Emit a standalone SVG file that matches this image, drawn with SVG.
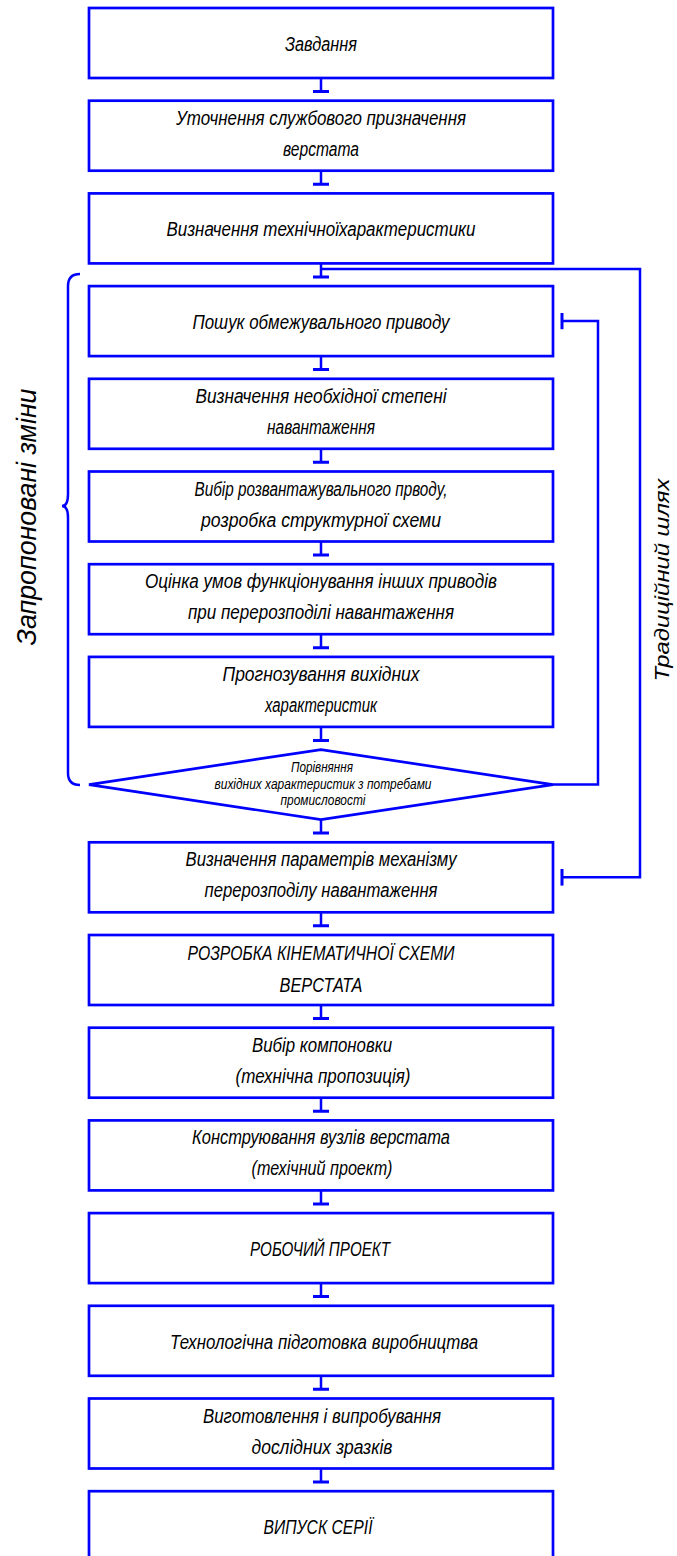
<svg xmlns="http://www.w3.org/2000/svg" width="677" height="1556" viewBox="0 0 677 1556">
<style>
.box{fill:#fff;stroke:#0000ff;stroke-width:2.7}
.ln{fill:none;stroke:#0000ff;stroke-width:2.5}
.bar{fill:none;stroke:#0000ff;stroke-width:3}
text{font-family:"Liberation Sans","DejaVu Sans",sans-serif;font-style:italic;fill:#000;text-anchor:middle}
.t{font-size:20px}
.s{font-size:14px}
.side{font-size:28px}
.side2{font-size:20px}
</style>
<rect width="677" height="1556" fill="#fff"/>
<g id="connectors">
<path class="ln" d="M321,78V91.5M321,170.7V184.2M321,263.4V276.9M321,356.1V369.6M321,448.8V462.3M321,541.5V555M321,634.2V647.7M321,726.9V740.4M321,819.6V833.1M321,912.3V925.8M321,1005V1018.5M321,1097.7V1111.2M321,1190.4V1203.9M321,1283.1V1296.6M321,1375.8V1389.3M321,1468.5V1482"/>
<path class="bar" d="M313,91.5H329M313,184.2H329M313,276.9H329M313,369.6H329M313,462.3H329M313,555H329M313,647.7H329M313,740.4H329M313,833.1H329M313,925.8H329M313,1018.5H329M313,1111.2H329M313,1203.9H329M313,1296.6H329M313,1389.3H329M313,1482H329"/>
<path id="traditional" class="ln" d="M321,269H640V877.3H562"/>
<path class="bar" d="M562,869V885.6"/>
<path id="feedback" class="ln" d="M553,784.6H598V321.1H562"/>
<path class="bar" d="M562,313V329.2"/>
</g>
<g id="brace">
<path class="ln" d="M80,274Q68,274 68,286V494Q68,506 62,506Q68,506 68,518V773Q68,785 80,785"/>
<text class="side" transform="translate(36,517) rotate(-90)" textLength="257" lengthAdjust="spacingAndGlyphs">Запропоновані зміни</text>
</g>
<g id="label-traditional">
<text class="side2" transform="translate(669,580) rotate(-90)" textLength="203" lengthAdjust="spacingAndGlyphs">Традиційний шлях</text>
</g>
<g id="n1"><rect class="box" x="89" y="8" width="464" height="70"/><text class="t" x="321" y="51" textLength="72" lengthAdjust="spacingAndGlyphs">Завдання</text></g>
<g id="n2"><rect class="box" x="89" y="100.7" width="464" height="70"/><text class="t" x="321" y="124.7" textLength="290" lengthAdjust="spacingAndGlyphs">Уточнення службового призначення</text><text class="t" x="321" y="155.7" textLength="76" lengthAdjust="spacingAndGlyphs">верстата</text></g>
<g id="n3"><rect class="box" x="89" y="193.4" width="464" height="70"/><text class="t" x="321" y="236.4" textLength="309" lengthAdjust="spacingAndGlyphs">Визначення технічноїхарактеристики</text></g>
<g id="n4"><rect class="box" x="89" y="286.1" width="464" height="70"/><text class="t" x="321" y="329.1" textLength="257" lengthAdjust="spacingAndGlyphs">Пошук обмежувального приводу</text></g>
<g id="n5"><rect class="box" x="89" y="378.8" width="464" height="70"/><text class="t" x="321" y="402.8" textLength="251" lengthAdjust="spacingAndGlyphs">Визначення необхідної степені</text><text class="t" x="321" y="433.8" textLength="108" lengthAdjust="spacingAndGlyphs">навантаження</text></g>
<g id="n6"><rect class="box" x="89" y="471.5" width="464" height="70"/><text class="t" x="321" y="495.5" textLength="253" lengthAdjust="spacingAndGlyphs">Вибір розвантажувального прводу,</text><text class="t" x="321" y="526.5" textLength="240" lengthAdjust="spacingAndGlyphs">розробка структурної схеми</text></g>
<g id="n7"><rect class="box" x="89" y="564.2" width="464" height="70"/><text class="t" x="321" y="588.2" textLength="352" lengthAdjust="spacingAndGlyphs">Оцінка умов функціонування інших приводів</text><text class="t" x="321" y="619.2" textLength="266" lengthAdjust="spacingAndGlyphs">при перерозподілі навантаження</text></g>
<g id="n8"><rect class="box" x="89" y="656.9" width="464" height="70"/><text class="t" x="321" y="680.9" textLength="197" lengthAdjust="spacingAndGlyphs">Прогнозування вихідних</text><text class="t" x="321" y="711.9" textLength="112" lengthAdjust="spacingAndGlyphs">характеристик</text></g>
<g id="n9"><polygon class="box" points="89,784.6 321,749.6 553,784.6 321,819.6"/><text class="s" x="322" y="772" textLength="62" lengthAdjust="spacingAndGlyphs">Порівняння</text><text class="s" x="323" y="788.5" textLength="217" lengthAdjust="spacingAndGlyphs">вихідних характеристик з потребами</text><text class="s" x="323" y="805" textLength="85" lengthAdjust="spacingAndGlyphs">промисловості</text></g>
<g id="n10"><rect class="box" x="89" y="842.3" width="464" height="70"/><text class="t" x="321" y="866.3" textLength="271" lengthAdjust="spacingAndGlyphs">Визначення параметрів механізму</text><text class="t" x="321" y="897.3" textLength="233" lengthAdjust="spacingAndGlyphs">перерозподілу навантаження</text></g>
<g id="n11"><rect class="box" x="89" y="935" width="464" height="70"/><text class="t" x="321" y="960" textLength="267" lengthAdjust="spacingAndGlyphs">РОЗРОБКА КІНЕМАТИЧНОЇ СХЕМИ</text><text class="t" x="321" y="992" textLength="83" lengthAdjust="spacingAndGlyphs">ВЕРСТАТА</text></g>
<g id="n12"><rect class="box" x="89" y="1027.7" width="464" height="70"/><text class="t" x="322" y="1051.7" textLength="140" lengthAdjust="spacingAndGlyphs">Вибір компоновки</text><text class="t" x="323" y="1082.7" textLength="175" lengthAdjust="spacingAndGlyphs">(технічна пропозиція)</text></g>
<g id="n13"><rect class="box" x="89" y="1120.4" width="464" height="70"/><text class="t" x="321" y="1144.4" textLength="258" lengthAdjust="spacingAndGlyphs">Конструювання вузлів верстата</text><text class="t" x="322" y="1175.4" textLength="141" lengthAdjust="spacingAndGlyphs">(техічний проект)</text></g>
<g id="n14"><rect class="box" x="89" y="1213.1" width="464" height="70"/><text class="t" x="320" y="1256.1" textLength="140" lengthAdjust="spacingAndGlyphs">РОБОЧИЙ ПРОЕКТ</text></g>
<g id="n15"><rect class="box" x="89" y="1305.8" width="464" height="70"/><text class="t" x="324" y="1348.8" textLength="308" lengthAdjust="spacingAndGlyphs">Технологічна підготовка виробництва</text></g>
<g id="n16"><rect class="box" x="89" y="1398.5" width="464" height="70"/><text class="t" x="322" y="1422.5" textLength="238" lengthAdjust="spacingAndGlyphs">Виготовлення і випробування</text><text class="t" x="322" y="1453.5" textLength="141" lengthAdjust="spacingAndGlyphs">дослідних зразків</text></g>
<g id="n17"><rect class="box" x="89" y="1491.2" width="464" height="70"/><text class="t" x="318" y="1534.2" textLength="109" lengthAdjust="spacingAndGlyphs">ВИПУСК СЕРІЇ</text></g>
</svg>
